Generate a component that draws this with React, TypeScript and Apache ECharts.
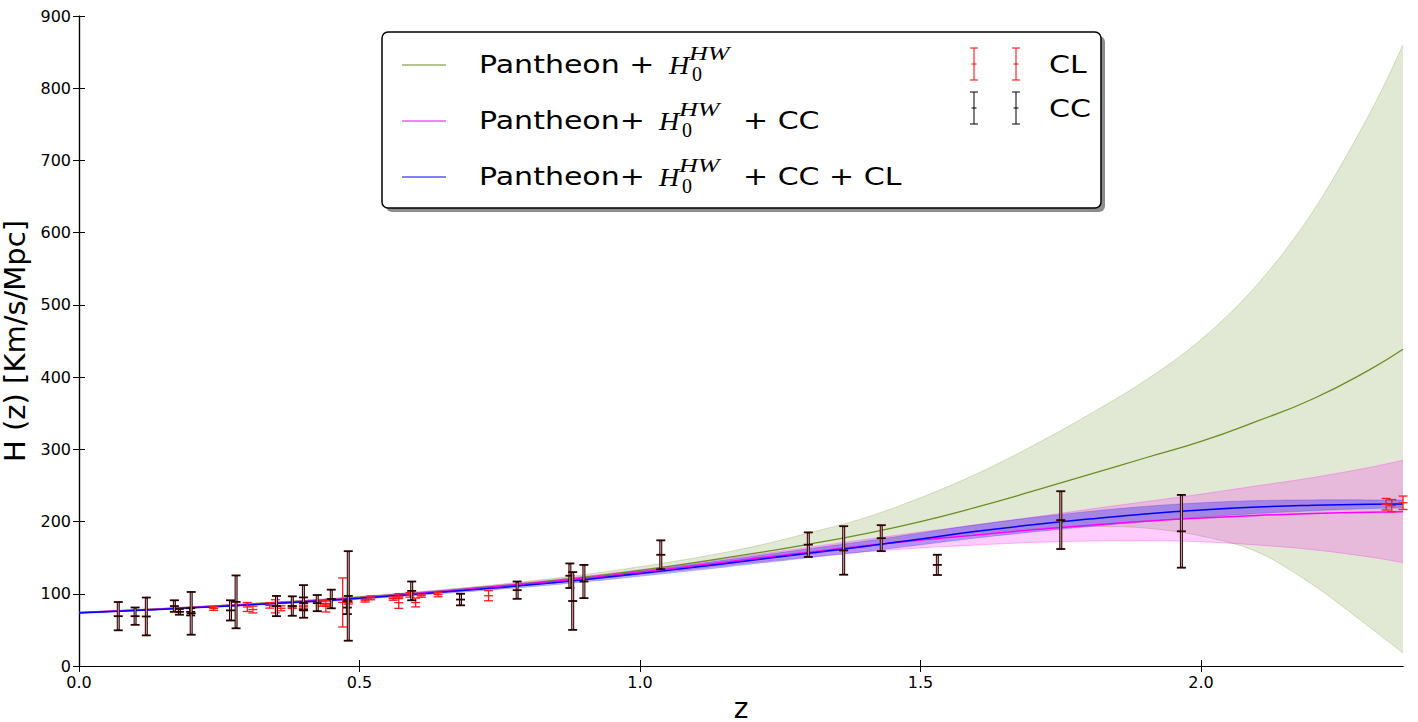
import React, { useEffect, useRef } from "react";
import * as echarts from "echarts";

// model grid (redshift)
const Z = [0, 0.1, 0.2, 0.3, 0.4, 0.5, 0.6, 0.7, 0.8, 0.9, 1.0, 1.1, 1.2, 1.3, 1.4, 1.5, 1.6, 1.7, 1.8, 1.9, 2.0, 2.1, 2.2, 2.3, 2.36];

// Pantheon + H0HW
const G = [74, 77.6, 81.5, 85.7, 90.3, 95.3, 101, 107.5, 114.7, 123, 132.5, 143.5, 155.5, 168.5, 183, 200, 220, 242, 265, 288, 311, 339, 370, 410, 438.5];
const GU = [74.5, 78.2, 82.2, 86.5, 91.2, 96.5, 102.5, 109.3, 117.3, 126.5, 137.5, 150, 165, 184, 205, 233, 266, 305, 348, 395, 452, 528, 630, 764, 860];
const GL = [73.5, 77, 80.8, 84.9, 89.4, 94.1, 99.5, 105.7, 112.1, 119.5, 127.5, 137, 146.5, 155, 165, 175, 184, 190, 193, 191, 180, 158, 112, 54, 18];

// Pantheon + H0HW + CC
const M = [74, 77.3, 81, 85, 89.5, 94.5, 100.5, 107, 114, 121.5, 130, 139, 148.5, 157.5, 166.5, 174.5, 181.5, 188.5, 195, 200.5, 205, 208.5, 211, 213, 213.7];
const MU = [74.5, 77.9, 81.7, 85.8, 90.5, 95.7, 102, 108.8, 116.2, 124.2, 133.3, 143.2, 153.8, 164.2, 175, 185.5, 195.5, 206, 217, 227.5, 238, 249.5, 261, 275, 285];
const ML = [73.5, 76.7, 80.3, 84.2, 88.5, 93.3, 99, 105.2, 111.8, 118.8, 126.7, 134.8, 143.2, 150.8, 158, 163.5, 167.5, 171, 173, 173.5, 172, 167.5, 161, 151, 143];

// Pantheon + H0HW + CC + CL
const B = [73.5, 76.8, 80.5, 84.5, 88.8, 93.8, 99.5, 105.5, 112, 119.5, 128, 137, 146.5, 156, 165.5, 176, 186.5, 195.5, 203.5, 210.5, 216, 220, 222.5, 224, 224.3];
const BU = [74, 77.4, 81.3, 85.5, 90, 95.3, 101.3, 107.7, 114.7, 122.7, 131.8, 141.5, 151.8, 162.2, 172.7, 184.2, 195.7, 205.5, 214, 221, 226, 229, 230, 230, 229.8];
const BL = [73, 76.2, 79.7, 83.5, 87.6, 92.3, 97.7, 103.3, 109.3, 116.3, 124.2, 132.5, 141.2, 149.8, 158.3, 167.8, 177.3, 185.5, 193, 200, 206, 211, 215, 218, 218.8];

// Cosmic chronometers
const CC_Z = [0.07, 0.1, 0.12, 0.17, 0.179, 0.199, 0.2, 0.27, 0.28, 0.352, 0.3802, 0.4, 0.4004, 0.4247, 0.4497, 0.4783, 0.48, 0.593, 0.68, 0.781, 0.875, 0.88, 0.9, 1.037, 1.3, 1.363, 1.43, 1.53, 1.75, 1.965];
const CC_H = [69, 69, 68.6, 83, 75, 75, 72.9, 77, 88.8, 83, 83, 95, 77, 87.1, 92.8, 80.9, 97, 104, 92, 105, 125, 90, 117, 154, 168, 160, 177, 140, 202, 186.5];
const CC_E = [19.6, 12, 26.2, 8, 4, 5, 29.6, 14, 36.6, 14, 13.5, 17, 10.2, 11.2, 12.9, 9, 62, 13, 8, 12, 17, 40, 23, 20, 17, 33.6, 18, 14, 40, 50.4];

// Clustering
const CL_Z = [0.24, 0.3, 0.31, 0.34, 0.35, 0.36, 0.38, 0.4, 0.43, 0.44, 0.44, 0.47, 0.48, 0.51, 0.52, 0.56, 0.57, 0.57, 0.59, 0.6, 0.61, 0.64, 0.73, 2.33, 2.34, 2.36];
const CL_H = [79.69, 81.7, 78.18, 83.8, 82.7, 79.94, 81.5, 82.04, 86.45, 82.6, 84.81, 88, 87.79, 90.4, 94.35, 93.34, 87.6, 96.8, 98.48, 87.9, 97.3, 98.82, 97.3, 224, 222, 226];
const CL_E = [2.65, 6.22, 4.74, 3.66, 9.1, 3.38, 1.9, 2.03, 3.68, 7.8, 1.83, 34, 2.03, 1.9, 2.64, 2.3, 7.8, 3.4, 3.18, 6.1, 2.1, 2.98, 7.0, 8, 8.5, 9.3];

const X_TICKS = [0, 0.5, 1.0, 1.5, 2.0];

const FONT = "DejaVu Sans";

// Catmull-Rom smoothing of pixel points (display only)
function spline(p: number[][]) {
  const out: number[][] = [];
  const n = p.length;
  for (let i = 0; i < n - 1; i++) {
    const p0 = p[Math.max(0, i - 1)];
    const p1 = p[i];
    const p2 = p[i + 1];
    const p3 = p[Math.min(n - 1, i + 2)];
    const steps = 12;
    for (let k = 0; k < steps; k++) {
      const t = k / steps;
      const t2 = t * t;
      const t3 = t2 * t;
      const f = (a: number, b: number, c: number, d: number) =>
        0.5 * (2 * b + (-a + c) * t + (2 * a - 5 * b + 4 * c - d) * t2 + (-a + 3 * b - 3 * c + d) * t3);
      out.push([f(p0[0], p1[0], p2[0], p3[0]), f(p0[1], p1[1], p2[1], p3[1])]);
    }
  }
  out.push(p[n - 1]);
  return out;
}

function bandSeries(lo: number[], hi: number[], fill: string, edge: string) {
  return {
    type: "custom",
    data: Z.map((z, i) => [z, lo[i], hi[i]]),
    encode: { x: 0, y: [1, 2] },
    clip: true,
    silent: true,
    z: 1,
    renderItem: (params: any, api: any) => {
      if (params.dataIndex !== 0) return null;
      const up = spline(Z.map((z, i) => api.coord([z, hi[i]])));
      const dn = spline(Z.map((z, i) => api.coord([z, lo[i]])));
      const poly = up.concat(dn.slice().reverse());
      return {
        type: "group",
        children: [
          { type: "polygon", shape: { points: poly }, style: { fill, stroke: null } },
          { type: "polyline", shape: { points: up }, style: { stroke: edge, lineWidth: 1, fill: null } },
          { type: "polyline", shape: { points: dn }, style: { stroke: edge, lineWidth: 1, fill: null } },
        ],
      };
    },
  };
}

function curve(ys: number[], color: string, width: number) {
  return {
    type: "line",
    data: Z.map((z, i) => [z, ys[i]]),
    smooth: true,
    showSymbol: false,
    symbol: "none",
    lineStyle: { width, color },
    silent: true,
    z: 3,
  };
}

function errSeries(zs: number[], hs: number[], es: number[], kind: "cc" | "cl") {
  return {
    type: "custom",
    data: zs.map((z, i) => [z, hs[i], es[i]]),
    encode: { x: 0, y: 1 },
    clip: false,
    z: 5,
    silent: true,
    renderItem: (params: any, api: any) => {
      const x = api.value(0);
      const y = api.value(1);
      const e = api.value(2);
      const top = api.coord([x, y + e]);
      const bot = api.coord([x, y - e]);
      const mid = api.coord([x, y]);
      const cw = 4.5;
      const children: any[] = [];
      if (kind === "cc") {
        children.push({ type: "line", shape: { x1: top[0], y1: top[1], x2: bot[0], y2: bot[1] }, style: { stroke: "#2a0000", lineWidth: 3 } });
        children.push({ type: "line", shape: { x1: top[0], y1: top[1] + 1, x2: bot[0], y2: bot[1] - 1 }, style: { stroke: "#d9a6a6", lineWidth: 1 } });
        const cap = { stroke: "#2a0000", lineWidth: 1.8 };
        children.push({ type: "line", shape: { x1: top[0] - cw, y1: top[1], x2: top[0] + cw, y2: top[1] }, style: cap });
        children.push({ type: "line", shape: { x1: bot[0] - cw, y1: bot[1], x2: bot[0] + cw, y2: bot[1] }, style: cap });
        children.push({ type: "line", shape: { x1: mid[0] - cw, y1: mid[1], x2: mid[0] + cw, y2: mid[1] }, style: cap });
      } else {
        const st = { stroke: "#ff1a1a", lineWidth: 1.3 };
        children.push({ type: "line", shape: { x1: top[0], y1: top[1], x2: bot[0], y2: bot[1] }, style: st });
        children.push({ type: "line", shape: { x1: top[0] - cw, y1: top[1], x2: top[0] + cw, y2: top[1] }, style: st });
        children.push({ type: "line", shape: { x1: bot[0] - cw, y1: bot[1], x2: bot[0] + cw, y2: bot[1] }, style: st });
        children.push({ type: "line", shape: { x1: mid[0] - cw, y1: mid[1], x2: mid[0] + cw, y2: mid[1] }, style: st });
      }
      return { type: "group", children };
    },
  };
}

function legendGraphic() {
  const els: any[] = [];
  const L = 382, T = 32, W = 719, H = 176;
  const SX = 1.2;
  els.push({ type: "rect", shape: { x: L + 4, y: T + 4, width: W, height: H, r: 6 }, style: { fill: "#8c8c8c" }, z: 100 });
  els.push({ type: "rect", shape: { x: L, y: T, width: W, height: H, r: 6 }, style: { fill: "#ffffff", stroke: "#000", lineWidth: 1.5 }, z: 101 });
  const rows = [
    { y: 64, color: "#6b8e23", pre: "Pantheon + ", hx: 669, post: "" },
    { y: 120, color: "#ff00ff", pre: "Pantheon+ ", hx: 659, post: "+ CC" },
    { y: 176, color: "#0000ff", pre: "Pantheon+ ", hx: 659, post: "+ CC + CL" },
  ];
  const txt = (text: string, x: number, y: number, size: number, family: string, italic: boolean, sx: number) => ({
    type: "text",
    x,
    y,
    scaleX: sx,
    z: 102,
    style: {
      text,
      fontSize: size,
      fontFamily: family,
      fontStyle: italic ? "italic" : "normal",
      fill: "#000",
      align: "left",
      verticalAlign: "middle",
    },
  });
  rows.forEach((r) => {
    els.push({ type: "line", shape: { x1: 402, y1: r.y + 1, x2: 446, y2: r.y + 1 }, style: { stroke: r.color, lineWidth: 1.2 }, z: 102 });
    els.push(txt(r.pre, 479, r.y, 25, FONT, false, SX));
    els.push(txt("H", r.hx, r.y + 2, 25, "Liberation Serif", true, 1.12));
    els.push(txt("HW", r.hx + 20, r.y - 10, 18, "Liberation Serif", true, 1.45));
    els.push(txt("0", r.hx + 23, r.y + 10, 20, "Liberation Serif", false, 1.0));
    if (r.post) els.push(txt(r.post, 743, r.y, 25, FONT, false, SX));
  });
  const ebar = (x: number, y1: number, y2: number, color: string) => {
    const ym = (y1 + y2) / 2;
    const st = { stroke: color, lineWidth: 1 };
    els.push({ type: "line", shape: { x1: x, y1, x2: x, y2 }, style: st, z: 102 });
    els.push({ type: "line", shape: { x1: x - 4, y1, x2: x + 4, y2: y1 }, style: st, z: 102 });
    els.push({ type: "line", shape: { x1: x - 4, y1: y2, x2: x + 4, y2 }, style: st, z: 102 });
    els.push({ type: "line", shape: { x1: x - 2.5, y1: ym, x2: x + 2.5, y2: ym }, style: st, z: 102 });
  };
  ebar(974, 48, 80, "#ff0000");
  ebar(1016, 48, 80, "#ff0000");
  ebar(974, 92, 124, "#000000");
  ebar(1016, 92, 124, "#000000");
  els.push(txt("CL", 1049, 64, 25, FONT, false, SX));
  els.push(txt("CC", 1049, 108, 25, FONT, false, SX));
  return els;
}

export default function App() {
  const ref = useRef<HTMLDivElement>(null);
  useEffect(() => {
    if (!ref.current) return;
    const chart = echarts.init(ref.current, undefined, { renderer: "svg" });
    const isTick = (v: number) => X_TICKS.some((t) => Math.abs(t - v) < 1e-6);
    const axisCommon = {
      axisLine: { show: true, lineStyle: { color: "#000", width: 1.2 } },
      axisTick: { show: true, inside: true, length: 6, lineStyle: { color: "#000", width: 1 } },
      splitLine: { show: false },
    };
    chart.setOption({
      animation: false,
      backgroundColor: "#ffffff",
      grid: { left: 79, right: 15, top: 16, bottom: 56, containLabel: false, outerBoundsMode: "none" },
      xAxis: [
        {
          type: "value",
          min: 0,
          max: 2.36,
          interval: 0.5,
          name: "z",
          nameLocation: "middle",
          nameGap: 22,
          nameTextStyle: { fontSize: 28, lineHeight: 28, fontFamily: FONT, color: "#000" },
          ...axisCommon,
          axisTick: { ...axisCommon.axisTick, customValues: X_TICKS },
          axisLabel: {
            fontSize: 16,
            fontFamily: FONT,
            color: "#000",
            margin: 8,
            customValues: X_TICKS,
            formatter: (v: number) => (isTick(v) ? v.toFixed(1) : ""),
          },
        },
        {
          type: "value",
          position: "top",
          min: 0,
          max: 2.36,
          interval: 0.5,
          ...axisCommon,
          axisTick: { ...axisCommon.axisTick, customValues: X_TICKS },
          axisLabel: { show: false },
        },
      ],
      yAxis: [
        {
          type: "value",
          min: 0,
          max: 900,
          interval: 100,
          name: "H (z) [Km/s/Mpc]",
          nameLocation: "middle",
          nameGap: 42,
          nameTextStyle: { fontSize: 29, lineHeight: 29, fontFamily: FONT, color: "#000" },
          ...axisCommon,
          axisLabel: { fontSize: 16, fontFamily: FONT, color: "#000", margin: 8 },
        },
        {
          type: "value",
          position: "right",
          min: 0,
          max: 900,
          interval: 100,
          ...axisCommon,
          axisLabel: { show: false },
        },
      ],
      series: [
        bandSeries(GL, GU, "rgba(107,142,35,0.2)", "rgba(107,142,35,0.25)"),
        bandSeries(ML, MU, "rgba(255,0,255,0.2)", "rgba(255,0,255,0.25)"),
        bandSeries(BL, BU, "rgba(0,0,255,0.28)", "rgba(0,0,255,0.2)"),
        curve(G, "#6b8e23", 1.3),
        curve(M, "#ff00ff", 1.5),
        curve(B, "#0000ff", 1.5),
        errSeries(CL_Z, CL_H, CL_E, "cl"),
        errSeries(CC_Z, CC_H, CC_E, "cc"),
      ],
      graphic: legendGraphic(),
    });
    return () => chart.dispose();
  }, []);
  return <div ref={ref} style={{ position: "fixed", left: 0, top: 0, width: "1418px", height: "722px" }} />;
}
